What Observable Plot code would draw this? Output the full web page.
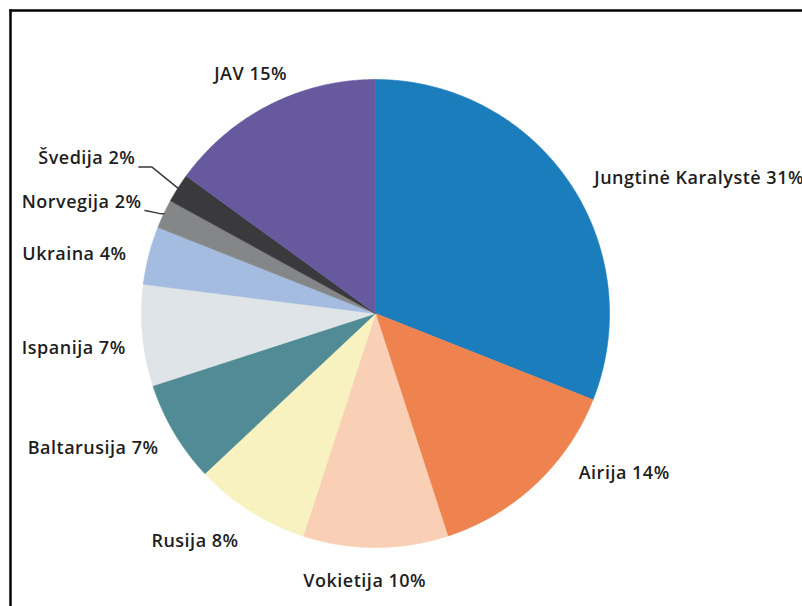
<!DOCTYPE html>
<html><head><meta charset="utf-8">
<script src="https://cdn.jsdelivr.net/npm/d3@7"></script>
<script src="https://cdn.jsdelivr.net/npm/@observablehq/plot@0.6"></script>
<style>body{margin:0;background:#fff;overflow:hidden}</style>
</head><body><div id="chart"></div>
<script>
const countries = ["Jungtinė Karalystė","Airija","Vokietija","Rusija","Baltarusija","Ispanija","Ukraina","Norvegija","Švedija","JAV"];
const shares = [31,14,10,8,7,7,4,2,2,15];
const colors = ["#1c7dbd","#ee834f","#f9d0b5","#f7f2bf","#508b96","#dfe4e8","#a4bce0","#858688","#3a3a3c","#66599d"];
// label layout (radius factor, angular shift in degrees)
const labelRadius = [1.1,1.105,1.146,1.136,1.092,1.078,1.094,1.107,1.221,1.152];
const labelTurn = [2.4,-8.6,2.3,-1.4,-1.3,-2.6,-0.9,0.2,0.4,-0.6];
const leaderLabels = ["Norvegija","Švedija"];

const total = d3.sum(shares);
const cum = d3.cumsum(shares);
const deg = Math.PI/180;
const pt = (a, r) => [r*Math.sin(a), r*Math.cos(a)];

const slices = [];
const labels = [];
const leaders = [];
countries.forEach((name, i) => {
  const a0 = (cum[i]-shares[i])/total*2*Math.PI;
  const a1 = cum[i]/total*2*Math.PI;
  const n = Math.max(2, Math.ceil((a1-a0)/deg*2));
  slices.push({name, x:0, y:0});
  for (let k=0;k<=n;k++){ const [x,y]=pt(a0+(a1-a0)*k/n,1); slices.push({name,x,y}); }
  slices.push({name, x:0, y:0});
  const mid = (a0+a1)/2;
  const la = mid + labelTurn[i]*deg;
  const [lx, ly] = pt(la, labelRadius[i]);
  const s = Math.sin(la);
  const anchor = s > 0.5 ? "start" : s < -0.5 ? "end" : "middle";
  labels.push({text:`${name} ${shares[i]}%`, x:lx, y:ly, anchor});
  if (leaderLabels.includes(name)) {
    const [ex, ey] = pt(mid, 1.0);
    const by = ly - 0.035;
    const pts = [[lx+0.015, by],[lx+0.07, by],[ex, ey]];
    if (name === "Norvegija") { pts[1] = [lx+0.075, by-0.012]; }
    pts.forEach(([x,y]) => leaders.push({name,x,y}));
  }
});

const cx = 375, cy = 313, R = 234;
const chart = Plot.plot({
  width: 802, height: 606,
  marginLeft: 10, marginTop: 10, marginRight: 0, marginBottom: 0,
  x: {domain:[-1,1], range:[cx-R, cx+R], axis:null},
  y: {domain:[-1,1], range:[cy+R, cy-R], axis:null},
  color: {domain: countries, range: colors},
  style: {fontFamily: "'Open Sans', 'Noto Sans', sans-serif", background: "#fff", letterSpacing: "0.5px"},
  marks: [
    Plot.line(slices, {x:"x", y:"y", z:"name", fill:"name", stroke:"name", strokeWidth:0.6, curve:"linear"}),
    Plot.line(leaders, {x:"x", y:"y", z:"name", stroke:"#3a3a3a", strokeWidth:1.5}),
    ...["start","middle","end"].map(anc => Plot.text(labels.filter(d=>d.anchor===anc), {x:"x", y:"y", text:"text", textAnchor:anc, fontSize:18, fill:"#1e1e1e", fontWeight:600})),
    Plot.frame({anchor:"left", stroke:"#000", strokeWidth:2.5}),
    Plot.frame({anchor:"top", stroke:"#000", strokeWidth:2.5})
  ]
});
document.getElementById("chart").append(chart);
</script>
</body></html>
